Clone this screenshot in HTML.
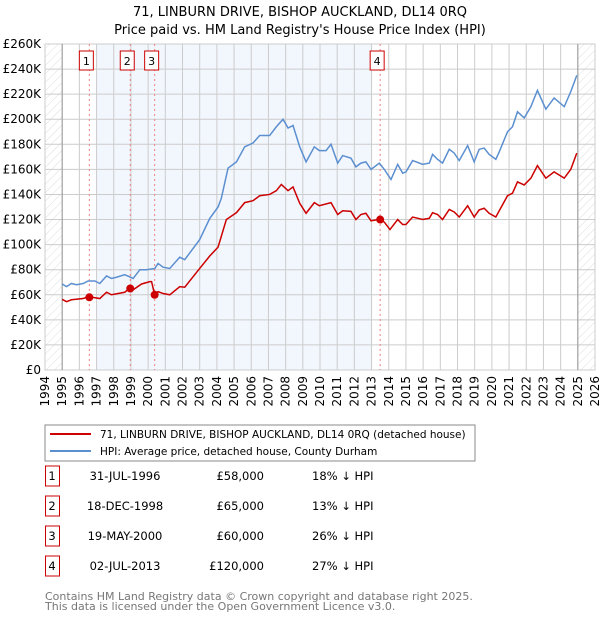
<!DOCTYPE html>
<html><head><meta charset="utf-8"><style>
body{margin:0;background:#fff;font-family:"DejaVu Sans","Liberation Sans",sans-serif;}
svg text{font-family:"DejaVu Sans","Liberation Sans",sans-serif;}
</style></head><body>
<svg id="c" width="600" height="620" xmlns="http://www.w3.org/2000/svg">
<defs><pattern id="h" width="6" height="6" patternUnits="userSpaceOnUse" patternTransform="rotate(45)"><line x1="0" y1="0" x2="0" y2="6" stroke="#ddd" stroke-width="1"/></pattern></defs>
<text x="300" y="16" text-anchor="middle" font-size="13">71, LINBURN DRIVE, BISHOP AUCKLAND, DL14 0RQ</text>
<text x="300" y="34" text-anchor="middle" font-size="13">Price paid vs. HM Land Registry's House Price Index (HPI)</text>
<g id="plot"></g>
<rect x="45" y="425" width="430" height="36" fill="#fff" stroke="#888"/>
<line x1="50" y1="434" x2="91" y2="434" stroke="#cc0000" stroke-width="2"/>
<text x="100" y="438" font-size="10.5">71, LINBURN DRIVE, BISHOP AUCKLAND, DL14 0RQ (detached house)</text>
<line x1="50" y1="451" x2="91" y2="451" stroke="#5b8fd0" stroke-width="2"/>
<text x="100" y="455" font-size="10.5">HPI: Average price, detached house, County Durham</text>
<g id="tbl" font-size="11.5"></g>
<text x="45" y="600" font-size="11" fill="#777">Contains HM Land Registry data © Crown copyright and database right 2025.</text>
<text x="45" y="610" font-size="11" fill="#777">This data is licensed under the Open Government Licence v3.0.</text>
</svg>
<script>
const hpiYears=[1995.0,1995.25,1995.54,1995.83,1996.22,1996.51,1996.9,1997.19,1997.58,1997.87,1998.16,1998.64,1999.13,1999.52,1999.9,2000.39,2000.58,2000.87,2001.26,2001.84,2002.13,2003.0,2003.59,2004.07,2004.26,2004.65,2005.14,2005.62,2006.1,2006.49,2007.07,2007.46,2007.85,2008.14,2008.43,2008.82,2009.19,2009.67,2009.96,2010.35,2010.64,2011.03,2011.32,2011.8,2012.09,2012.38,2012.67,2012.97,2013.45,2013.74,2014.13,2014.52,2014.81,2015.0,2015.39,2015.97,2016.36,2016.55,2016.84,2017.13,2017.52,2017.81,2018.1,2018.59,2018.97,2019.26,2019.55,2019.84,2020.23,2020.43,2020.91,2021.2,2021.49,2021.88,2022.27,2022.65,2023.14,2023.62,2024.21,2024.59,2024.94];
const hpiValues=[68.6,66.5,69,68,69,71,71,69,75,73,74,76,73,80,80,81,85,82,81,90,88,104,121,130,137,161,166,178,181,187,187,194,200,193,195,178,166,178,175,175,180,165,171,169,162,165,166,160,165,160,152,164,157,158,167,164,165,172,168,165,176,173,167,179,166,176,177,172,168,174,190,194,206,201,210,223,208,217,210,222,235];
const priceYears=[1995.0,1995.25,1995.54,1996.22,1996.51,1997.19,1997.58,1997.87,1998.64,1998.9,1999.13,1999.62,2000.1,2000.2,2000.38,2000.58,2000.87,2001.26,2001.84,2002.13,2003.0,2003.59,2004.07,2004.55,2005.14,2005.62,2006.1,2006.49,2007.07,2007.46,2007.75,2008.14,2008.43,2008.82,2009.19,2009.67,2009.96,2010.64,2011.03,2011.32,2011.8,2012.09,2012.38,2012.67,2012.97,2013.41,2013.74,2014.07,2014.52,2014.81,2015.0,2015.39,2015.97,2016.36,2016.55,2016.84,2017.13,2017.52,2017.81,2018.1,2018.59,2018.97,2019.26,2019.55,2019.84,2020.23,2020.91,2021.2,2021.49,2021.88,2022.27,2022.65,2023.14,2023.62,2024.21,2024.59,2024.94];
const priceValues=[56.4,54.5,56,57,58.5,57,62,60,62,65,64,68.6,70.5,70.5,60,62.5,61,60,66.5,66,81,91,98,120,125.5,133.5,135,139,140,143,148,143,146,133,125,133.5,131,133.5,124,127,126.5,120,124,125,119,120,118,112,120,116,116,122,120,121,125.5,124,120,128,126,122,131,122,127.7,129,125,122,139,141,150,147.6,153,163,153,158,153,160,173];
const saleYears=[1996.58,1998.96,2000.38,2013.5];
const salePrices=[58,65,60,120];
const saleDates=["31-JUL-1996","18-DEC-1998","19-MAY-2000","02-JUL-2013"];
const salePriceLabels=["£58,000","£65,000","£60,000","£120,000"];
const saleDiffs=["18% ↓ HPI","13% ↓ HPI","26% ↓ HPI","27% ↓ HPI"];
const yTicks=[0,20,40,60,80,100,120,140,160,180,200,220,240,260];
const xYears=[1994,1995,1996,1997,1998,1999,2000,2001,2002,2003,2004,2005,2006,2007,2008,2009,2010,2011,2012,2013,2014,2015,2016,2017,2018,2019,2020,2021,2022,2023,2024,2025,2026];

const L=45,R=595,T=44,B=370;
const X=y=>L+(y-1994)*(R-L)/32;
const Y=v=>B-v*(B-T)/260;
const NS="http://www.w3.org/2000/svg";
const g=document.getElementById('plot');
function mk(tag,at,parent){const e=document.createElementNS(NS,tag);for(const k in at)e.setAttribute(k,at[k]);(parent||g).appendChild(e);return e;}
let e;
e=mk('rect',{x:L,y:T,width:R-L,height:B-T,fill:'#fff',stroke:'#ccc'});


e=mk('rect',{x:X(1997),y:T,width:X(2013)-X(1997),height:B-T,fill:'#f2f6fd'});


e=mk('rect',{x:L,y:T,width:X(1995)-L,height:B-T,fill:'url(#h)'});


e=mk('rect',{x:X(2025),y:T,width:R-X(2025),height:B-T,fill:'url(#h)'});


yTicks.forEach(v=>{
 e=mk('line',{x1:L,x2:R,y1:Y(v),y2:Y(v),stroke:'#ccc'});
 
 
 e=mk('text',{x:L-4,y:Y(v)+4,'text-anchor':'end','font-size':12});
 e.textContent=v===0?'£0':'£'+v+'K';
 
 
});
xYears.forEach(yr=>{
 e=mk('line',{x1:X(yr),x2:X(yr),y1:T,y2:B,stroke:'#ccc'});
 
 
 e=mk('text',{x:0,y:0,'font-size':12,'text-anchor':'end',transform:`translate(${X(yr)+4},${B+6}) rotate(-90)`});
 e.textContent=yr;
 
 
});
e=mk('line',{x1:X(1995),x2:X(1995),y1:T,y2:B,stroke:'#999'});


e=mk('line',{x1:X(2025),x2:X(2025),y1:T,y2:B,stroke:'#999'});


saleYears.forEach((yr,i)=>{
 e=mk('line',{x1:X(yr),x2:X(yr),y1:T,y2:B,stroke:'#f08080','stroke-dasharray':'2,3'});
 
 
 e=mk('rect',{x:X(yr)-10,y:51,width:14,height:19,fill:'#fff',stroke:'#cc0000'});
 
 
 e=mk('text',{x:X(yr)-3,y:65,'text-anchor':'middle','font-size':11});
 e.textContent=i+1;
 
 
});
e=mk('polyline',{points:hpiYears.map((y,i)=>X(y)+','+Y(hpiValues[i])).join(' '),fill:'none',stroke:'#5b8fd0','stroke-width':1.5});


e=mk('polyline',{points:priceYears.map((y,i)=>X(y)+','+Y(priceValues[i])).join(' '),fill:'none',stroke:'#cc0000','stroke-width':1.5});


saleYears.forEach((yr,i)=>{
 e=mk('circle',{cx:X(yr),cy:Y(salePrices[i]),r:4,fill:'#cc0000'});
 
 
});
const t=document.getElementById('tbl');
saleYears.forEach((yr,i)=>{
 const y0=475+i*30;
 e=mk('rect',{x:45.5,y:y0-9,width:14,height:20,fill:'#fff',stroke:'#cc0000'},t);
 
 
 e=mk('text',{x:52,y:y0+5,'text-anchor':'middle'},t);e.textContent=i+1;
 
 
 e=mk('text',{x:125,y:y0+5,'text-anchor':'middle'},t);e.textContent=saleDates[i];
 
 
 e=mk('text',{x:264,y:y0+5,'text-anchor':'end'},t);e.textContent=salePriceLabels[i];
 
 
 e=mk('text',{x:312,y:y0+5},t);e.textContent=saleDiffs[i];
 
 
});
</script>
</body></html>
